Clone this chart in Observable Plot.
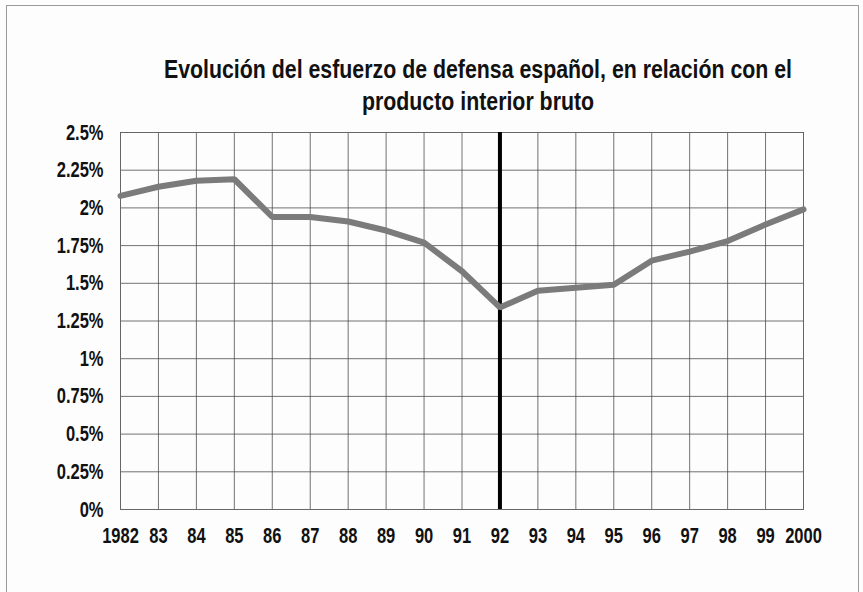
<!DOCTYPE html>
<html>
<head>
<meta charset="utf-8">
<script src="https://cdn.jsdelivr.net/npm/d3@7"></script>
<script src="https://cdn.jsdelivr.net/npm/@observablehq/plot@0.6"></script>
<style>
  html, body { margin: 0; padding: 0; background: #fff; }
  #page { position: relative; width: 863px; height: 592px; overflow: hidden; background: #fdfdfd; }
  #frame { position: absolute; left: 6px; top: 5px; width: 853px; height: 600px; border: 1.5px solid #9a9a9a; box-sizing: border-box; }
  #title { position: absolute; left: -22px; width: 1000px; top: 53px; text-align: center; white-space: nowrap;
    transform: scaleX(0.853); transform-origin: 500px 0;
    font-family: "Liberation Sans", Arial, sans-serif;
    font-weight: bold; font-size: 25px; line-height: 32px; color: #111; }
  #title span { display: block; }
  #chart { position: absolute; left: 0; top: 110px; }
</style>
</head>
<body>
<div id="page">
  <div id="frame"></div>
  <div id="chart"></div>
  <div id="title"><span>Evolución del esfuerzo de defensa español, en relación con el</span><span>producto interior bruto</span></div>
</div>
<script>
const years = [1982,1983,1984,1985,1986,1987,1988,1989,1990,1991,1992,1993,1994,1995,1996,1997,1998,1999,2000];
const defensePct = [2.08,2.14,2.18,2.19,1.94,1.94,1.91,1.85,1.77,1.58,1.34,1.45,1.47,1.49,1.65,1.71,1.78,1.89,1.99];
const xTickLabels = ["1982","83","84","85","86","87","88","89","90","91","92","93","94","95","96","97","98","99","2000"];
const yTicks = [0,0.25,0.5,0.75,1,1.25,1.5,1.75,2,2.25,2.5];
const yTickLabels = ["0%","0.25%","0.5%","0.75%","1%","1.25%","1.5%","1.75%","2%","2.25%","2.5%"];
const markerYear = [1992];

const data = years.map((y, i) => ({year: y, value: defensePct[i]}));
const fontFam = '"Liberation Sans", Arial, sans-serif';

const chart = Plot.plot({
  width: 863,
  height: 460,
  marginTop: 22,
  marginBottom: 61,
  marginLeft: 120,
  marginRight: 60,
  style: { fontFamily: fontFam, fontSize: "22px", fontWeight: "bold", color: "#111", background: "transparent" },
  x: { domain: [1982, 2000], label: null },
  y: { domain: [0, 2.5], label: null },
  marks: [
    Plot.gridX(years, { stroke: "#444", strokeOpacity: 0.75, strokeWidth: 1 }),
    Plot.gridY(yTicks, { stroke: "#444", strokeOpacity: 0.75, strokeWidth: 1 }),
    Plot.frame({ stroke: "#666", strokeWidth: 1 }),
    Plot.ruleX(markerYear, { stroke: "#000", strokeWidth: 4 }),
    Plot.line(data, { x: "year", y: "value", stroke: "#7b7b7b", strokeWidth: 6, strokeLinejoin: "miter" }),
    Plot.axisX({ ticks: years, tickFormat: (d) => xTickLabels[years.indexOf(d)], tickSize: 0, tickPadding: 18, fontSize: 22 }),
    Plot.axisY({ ticks: yTicks, tickFormat: (d) => yTickLabels[yTicks.indexOf(d)], tickSize: 0, tickPadding: 17, fontSize: 22 })
  ]
});
// condense tick labels horizontally (narrow typeface look)
chart.querySelectorAll('g[aria-label="x-axis tick label"] text, g[aria-label="y-axis tick label"] text').forEach((t) => {
  const tr = t.getAttribute("transform") || "";
  t.setAttribute("transform", tr + " scale(0.75,1)");
});
document.getElementById("chart").appendChild(chart);
</script>
</body>
</html>
